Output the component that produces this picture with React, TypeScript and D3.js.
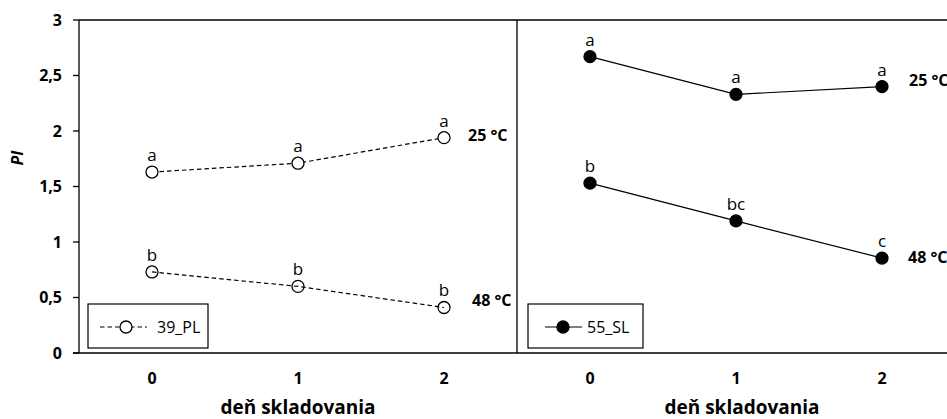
import { scaleLinear, scaleBand, line } from 'd3'

const width = 947
const height = 419

const days = ['0', '1', '2']
const yTicks = [0, 0.5, 1, 1.5, 2, 2.5, 3]

// 39_PL panel
const pl25 = [1.63, 1.71, 1.94]
const pl48 = [0.73, 0.6, 0.41]
const pl25Letters = ['a', 'a', 'a']
const pl48Letters = ['b', 'b', 'b']

// 55_SL panel
const sl25 = [2.67, 2.33, 2.4]
const sl48 = [1.53, 1.19, 0.855]
const sl25Letters = ['a', 'a', 'a']
const sl48Letters = ['b', 'bc', 'c']

const font = '"Open Sans", sans-serif'

const plot = { top: 20, bottom: 353, left: 79, panelWidth: 438 }

const yScale = scaleLinear().domain([0, 3]).range([plot.bottom, plot.top])

const fmt = (v: number) => String(v).replace('.', ',')

type SeriesProps = {
  xScale: any
  values: number[]
  letters: string[]
  dashed: boolean
  filled: boolean
  hollowThrough?: boolean
}

function Series({ xScale, values, letters, dashed, filled, hollowThrough }: SeriesProps) {
  const cx = (i: number) => xScale(days[i]) + xScale.bandwidth() / 2
  const path = line<number>()
    .x((_, i) => cx(i))
    .y((d) => yScale(d))(values)
  return (
    <g>
      <path d={path || ''} fill="none" stroke="#000" strokeWidth={1.2}
        strokeDasharray={dashed ? '4.5,3' : undefined} />
      {values.map((v, i) => (
        <g key={i}>
          <circle cx={cx(i)} cy={yScale(v)} r={6}
            fill={filled ? '#000' : hollowThrough ? 'none' : '#fff'}
            stroke="#000" strokeWidth={1.3} />
          <text x={cx(i)} y={yScale(v) - 11} textAnchor="middle"
            fontFamily={font} fontSize={17}>{letters[i]}</text>
        </g>
      ))}
    </g>
  )
}

function App() {
  const xLeft = scaleBand().domain(days).range([plot.left, plot.left + plot.panelWidth])
  const xRight = scaleBand().domain(days)
    .range([plot.left + plot.panelWidth, plot.left + 2 * plot.panelWidth])
  const divider = plot.left + plot.panelWidth

  return (
    <svg width={width} height={height} style={{ position: 'absolute', left: 0, top: 0 }}>
      <rect width={width} height={height} fill="#fff" />

      {/* frame */}
      <line x1={plot.left} x2={width} y1={plot.top} y2={plot.top} stroke="#000" strokeWidth={1.3} />
      <line x1={plot.left - 6} x2={width} y1={plot.bottom} y2={plot.bottom} stroke="#000" strokeWidth={1.3} />
      <line x1={plot.left} x2={plot.left} y1={plot.top} y2={plot.bottom} stroke="#000" strokeWidth={1.3} />
      <line x1={divider} x2={divider} y1={plot.top} y2={plot.bottom} stroke="#000" strokeWidth={1.3} />

      {/* y axis */}
      {yTicks.map((t) => (
        <g key={t} transform={`translate(0,${yScale(t)})`}>
          <line x1={plot.left - 6} x2={plot.left} stroke="#000" strokeWidth={1.3} />
          <text x={62} dy="0.36em" textAnchor="end" fontFamily={font}
            fontWeight="bold" fontSize={16}>{fmt(t)}</text>
        </g>
      ))}
      <text transform={`translate(23,158) rotate(-90)`} textAnchor="middle"
        fontFamily={font} fontWeight="bold" fontStyle="italic" fontSize={16}>PI</text>

      {/* x axes */}
      {[xLeft, xRight].map((xs, k) => (
        <g key={k}>
          {days.map((d) => (
            <text key={d} x={xs(d)! + xs.bandwidth() / 2} y={378} dy="0.36em"
              textAnchor="middle" fontFamily={font} fontWeight="bold" fontSize={16}>{d}</text>
          ))}
        </g>
      ))}
      <text x={298} y={414} textAnchor="middle" fontFamily={font}
        fontWeight="bold" fontSize={19}>deň skladovania</text>
      <text x={742} y={414} textAnchor="middle" fontFamily={font}
        fontWeight="bold" fontSize={19}>deň skladovania</text>

      {/* series */}
      <Series xScale={xLeft} values={pl25} letters={pl25Letters} dashed filled={false} />
      <Series xScale={xLeft} values={pl48} letters={pl48Letters} dashed filled={false} hollowThrough />
      <Series xScale={xRight} values={sl25} letters={sl25Letters} dashed={false} filled />
      <Series xScale={xRight} values={sl48} letters={sl48Letters} dashed={false} filled />

      {/* temperature labels */}
      <text x={468} y={135} dy="0.36em" fontFamily={font} fontWeight="bold" fontSize={16}>25 °C</text>
      <text x={472} y={300} dy="0.36em" fontFamily={font} fontWeight="bold" fontSize={16}>48 °C</text>
      <text x={909} y={80} dy="0.36em" fontFamily={font} fontWeight="bold" fontSize={16}>25 °C</text>
      <text x={908} y={257} dy="0.36em" fontFamily={font} fontWeight="bold" fontSize={16}>48 °C</text>

      {/* legends */}
      <g>
        <rect x={88} y={304} width={120} height={44} fill="#fff" stroke="#000" strokeWidth={1.2} />
        <line x1={100} x2={147} y1={327} y2={327} stroke="#000" strokeWidth={1.2} strokeDasharray="4.5,3" />
        <circle cx={126} cy={327} r={6} fill="#fff" stroke="#000" strokeWidth={1.3} />
        <text x={157} y={327} dy="0.36em" fontFamily={font} fontSize={16}>39_PL</text>
      </g>
      <g>
        <rect x={528} y={304} width={115} height={44} fill="#fff" stroke="#000" strokeWidth={1.2} />
        <line x1={545} x2={582} y1={327} y2={327} stroke="#000" strokeWidth={1.2} />
        <circle cx={563} cy={327} r={6} fill="#000" stroke="#000" strokeWidth={1.3} />
        <text x={587} y={327} dy="0.36em" fontFamily={font} fontSize={16}>55_SL</text>
      </g>
    </svg>
  )
}

export default App
